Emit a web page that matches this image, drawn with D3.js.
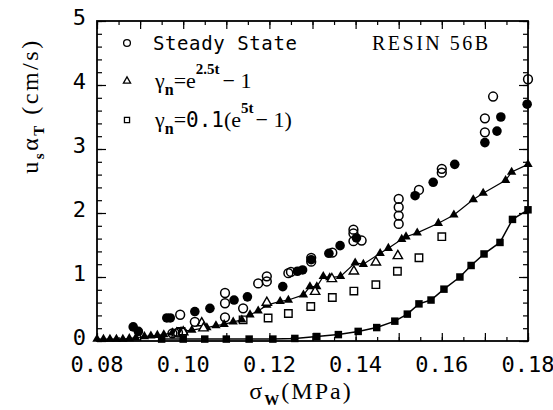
<!DOCTYPE html>
<html>
<head>
<meta charset="utf-8">
<script src="https://cdn.jsdelivr.net/npm/d3@7"></script>
<style>
  body { margin: 0; background: #fff; }
  svg { display: block; }
</style>
</head>
<body>
<div id="chart"></div>
<script>
// steady state, open circles [sigma_w, u_s*alpha_T]
const steadyOpen = [
  [0.0975, 0.12], [0.0988, 0.13], [0.0999, 0.13], [0.0993, 0.41], [0.1027, 0.30],
  [0.1097, 0.75], [0.1097, 0.59], [0.1097, 0.37], [0.1139, 0.51],
  [0.1174, 0.90], [0.1194, 1.01], [0.1194, 0.93], [0.1244, 1.06], [0.1250, 1.08],
  [0.1297, 1.30], [0.1297, 1.24], [0.1346, 1.38],
  [0.1395, 1.74], [0.1395, 1.68], [0.1395, 1.56], [0.1414, 1.57],
  [0.15, 2.22], [0.15, 2.09], [0.15, 1.96], [0.15, 1.83], [0.1547, 2.36],
  [0.16, 2.69], [0.16, 2.63], [0.170, 3.26], [0.170, 3.48], [0.1719, 3.82], [0.18, 4.09]
];
// filled circles
const steadyFilled = [
  [0.0884, 0.22], [0.0896, 0.15], [0.0962, 0.36], [0.0970, 0.36],
  [0.1027, 0.46], [0.1062, 0.51], [0.1118, 0.64], [0.1149, 0.69],
  [0.1231, 0.85], [0.1265, 1.09], [0.1277, 1.11], [0.1297, 1.27],
  [0.1338, 1.37], [0.1364, 1.49], [0.1402, 1.61],
  [0.1538, 2.27], [0.158, 2.48], [0.163, 2.76],
  [0.170, 3.10], [0.1728, 3.28], [0.1737, 3.50], [0.1798, 3.70]
];
// gamma_n = e^2.5t - 1 : open triangles (data), filled triangles + line
const triOpen = [
  [0.0985, 0.12], [0.1000, 0.14], [0.1043, 0.28], [0.1047, 0.20],
  [0.1194, 0.60], [0.1306, 0.77], [0.1345, 0.97], [0.1396, 1.09],
  [0.1447, 1.23], [0.1498, 1.33]
];
const triLine = [
  [0.0800, 0.03], [0.0815, 0.03], [0.0830, 0.03], [0.0845, 0.03], [0.0860, 0.03],
  [0.0875, 0.04], [0.0890, 0.05], [0.0910, 0.07], [0.0925, 0.08], [0.0940, 0.09],
  [0.0955, 0.10], [0.0975, 0.13], [0.0995, 0.15], [0.1020, 0.17], [0.1055, 0.21],
  [0.1076, 0.24], [0.1095, 0.26], [0.1116, 0.30], [0.1136, 0.33], [0.1155, 0.41],
  [0.1174, 0.47], [0.1194, 0.56], [0.1225, 0.62], [0.1244, 0.64], [0.1279, 0.72],
  [0.1294, 0.85], [0.1310, 0.85], [0.1325, 1.01], [0.1340, 0.99], [0.1365, 1.01],
  [0.1399, 1.22], [0.1418, 1.20], [0.1457, 1.37], [0.1476, 1.45], [0.1507, 1.59],
  [0.1517, 1.63], [0.1543, 1.69], [0.1592, 1.84], [0.1628, 1.97], [0.1673, 2.21],
  [0.1696, 2.31], [0.1748, 2.51], [0.1762, 2.64], [0.1800, 2.76]
];
// gamma_n = 0.1(e^5t - 1) : open squares (data), filled squares + line
const sqOpen = [
  [0.0995, 0.15], [0.1139, 0.33], [0.1197, 0.36], [0.1244, 0.43], [0.1296, 0.54],
  [0.1346, 0.68], [0.1396, 0.78], [0.1447, 0.88], [0.1497, 1.09], [0.1547, 1.30],
  [0.1600, 1.63]
];
const sqLine = [
  [0.0950, 0.03], [0.1000, 0.03], [0.1050, 0.03], [0.1100, 0.03], [0.1153, 0.03],
  [0.1208, 0.03], [0.1259, 0.04], [0.1310, 0.07], [0.1360, 0.10], [0.1406, 0.15],
  [0.1449, 0.21], [0.1491, 0.31], [0.1520, 0.42], [0.1547, 0.58], [0.1575, 0.64],
  [0.1605, 0.81], [0.1642, 1.00], [0.1668, 1.18], [0.1698, 1.36], [0.1735, 1.54],
  [0.1764, 1.90], [0.1800, 2.05]
];
const xTickLabels = [0.08, 0.10, 0.12, 0.14, 0.16, 0.18];
const yTickLabels = [0, 1, 2, 3, 4, 5];

const width = 553;
const height = 410;
const margin = { top: 21, right: 25, bottom: 69, left: 97 };
const iw = width - margin.left - margin.right;
const ih = height - margin.top - margin.bottom;

const svg = d3.select("#chart")
  .append("svg")
  .attr("width", width)
  .attr("height", height);

const g = svg.append("g")
  .attr("transform", `translate(${margin.left},${margin.top})`);

const x = d3.scaleLinear().domain([0.08, 0.18]).range([0, iw]);
const y = d3.scaleLinear().domain([0, 5]).range([ih, 0]);

const monoFont = "'DejaVu Sans Mono', monospace";
const serif = "'Liberation Serif', 'Times New Roman', serif";

// ticks, inside on all four sides
const xMinor = d3.range(0.08, 0.1801, 0.005);
const xMajor = d3.range(0.08, 0.1801, 0.01);
const yMinor = d3.range(0, 5.001, 0.2);

function tickAxis(axisFn, scale, values, size) {
  return axisFn(scale).tickValues(values).tickSize(size).tickFormat("");
}
g.append("g").attr("transform", `translate(0,${ih})`)
  .call(tickAxis(d3.axisTop, x, xMinor, 4));
g.append("g").attr("transform", `translate(0,${ih})`)
  .call(tickAxis(d3.axisTop, x, xMajor, 8));
g.append("g").call(tickAxis(d3.axisBottom, x, xMinor, 4));
g.append("g").call(tickAxis(d3.axisBottom, x, xMajor, 8));
g.append("g").call(tickAxis(d3.axisRight, y, yMinor, 5));
g.append("g").call(tickAxis(d3.axisRight, y, yTickLabels, 9));
g.append("g").attr("transform", `translate(${iw},0)`)
  .call(tickAxis(d3.axisLeft, y, yMinor, 5));
g.append("g").attr("transform", `translate(${iw},0)`)
  .call(tickAxis(d3.axisLeft, y, yTickLabels, 9));
g.selectAll(".domain").remove();
g.selectAll(".tick line").attr("stroke", "#000").attr("stroke-width", 1.2);

g.append("rect")
  .attr("width", iw).attr("height", ih)
  .attr("fill", "none").attr("stroke", "#000").attr("stroke-width", 1.8);

// tick labels
g.selectAll(".xlab").data(xTickLabels).join("text")
  .attr("x", d => x(d)).attr("y", ih + 31)
  .attr("text-anchor", "middle")
  .style("font-family", monoFont).style("font-size", "22px")
  .text(d => d3.format(".2f")(d));
g.selectAll(".ylab").data(yTickLabels).join("text")
  .attr("x", -11).attr("y", d => y(d) + 4)
  .attr("text-anchor", "end")
  .style("font-family", monoFont).style("font-size", "22px")
  .text(d => d);

// lines
const line = d3.line().x(d => x(d[0])).y(d => y(d[1]));
g.append("path").datum(triLine).attr("d", line)
  .attr("fill", "none").attr("stroke", "#000").attr("stroke-width", 1.2);
g.append("path").datum(sqLine).attr("d", line)
  .attr("fill", "none").attr("stroke", "#000").attr("stroke-width", 1.5);

const triSym = d3.symbol().type(d3.symbolTriangle).size(38);
const sqSym = d3.symbol().type(d3.symbolSquare).size(56);

g.selectAll(".sqf").data(sqLine).join("path")
  .attr("transform", d => `translate(${x(d[0])},${y(d[1])})`)
  .attr("d", sqSym).attr("fill", "#000");
g.selectAll(".sqo").data(sqOpen).join("path")
  .attr("transform", d => `translate(${x(d[0])},${y(d[1])})`)
  .attr("d", sqSym).attr("fill", "#fff").attr("stroke", "#000").attr("stroke-width", 1.4);
g.selectAll(".trif").data(triLine).join("path")
  .attr("transform", d => `translate(${x(d[0])},${y(d[1])})`)
  .attr("d", triSym).attr("fill", "#000");
g.selectAll(".trio").data(triOpen).join("path")
  .attr("transform", d => `translate(${x(d[0])},${y(d[1])})`)
  .attr("d", triSym).attr("fill", "#fff").attr("stroke", "#000").attr("stroke-width", 1.4);
g.selectAll(".cf").data(steadyFilled).join("circle")
  .attr("cx", d => x(d[0])).attr("cy", d => y(d[1])).attr("r", 4.8)
  .attr("fill", "#000");
g.selectAll(".co").data(steadyOpen).join("circle")
  .attr("cx", d => x(d[0])).attr("cy", d => y(d[1])).attr("r", 4.4)
  .attr("fill", "none").attr("stroke", "#000").attr("stroke-width", 1.5);

// legend
const leg = svg.append("g");
leg.append("circle").attr("cx", 127).attr("cy", 43).attr("r", 3.4)
  .attr("fill", "none").attr("stroke", "#000").attr("stroke-width", 1.3);
leg.append("text").attr("x", 153).attr("y", 50)
  .style("font-family", monoFont).style("font-size", "19px").style("letter-spacing", "0.6px")
  .text("Steady State");
leg.append("path").attr("transform", "translate(127,81)")
  .attr("d", d3.symbol().type(d3.symbolTriangle).size(22))
  .attr("fill", "none").attr("stroke", "#000").attr("stroke-width", 1.3);
const t2 = leg.append("text").attr("x", 155).attr("y", 88)
  .style("font-family", serif).style("font-size", "22px");
t2.append("tspan").text("γ");
t2.append("tspan").attr("dy", 7).style("font-size", "16px").style("font-weight", "bold").text("n");
t2.append("tspan").attr("dy", -7).text("=e");
t2.append("tspan").attr("dy", -14).style("font-size", "15px").style("font-weight", "bold").text("2.5t");
t2.append("tspan").attr("dy", 14).attr("dx", 3).text("− 1");
leg.append("path").attr("transform", "translate(127,120)")
  .attr("d", d3.symbol().type(d3.symbolSquare).size(26))
  .attr("fill", "none").attr("stroke", "#000").attr("stroke-width", 1.3);
const t3 = leg.append("text").attr("x", 155).attr("y", 127)
  .style("font-family", serif).style("font-size", "22px");
t3.append("tspan").text("γ");
t3.append("tspan").attr("dy", 7).style("font-size", "16px").style("font-weight", "bold").text("n");
t3.append("tspan").attr("dy", -7).text("=");
t3.append("tspan").style("font-family", monoFont).style("font-size", "21px").text("0.1");
t3.append("tspan").text("(e");
t3.append("tspan").attr("dy", -14).style("font-size", "15px").style("font-weight", "bold").text("5t");
t3.append("tspan").attr("dy", 14).attr("dx", 2).text("− 1)");

svg.append("text").attr("x", 372).attr("y", 50)
  .style("font-family", serif).style("font-size", "20px").style("letter-spacing", "2.5px")
  .text("RESIN 56B");

// axis titles
const xt = svg.append("text").attr("x", 301).attr("y", 399)
  .attr("text-anchor", "middle")
  .style("font-family", serif).style("font-size", "24px").style("letter-spacing", "2px");
xt.append("tspan").text("σ");
xt.append("tspan").attr("dy", 6).style("font-size", "15px").style("font-weight", "bold").text("W");
xt.append("tspan").attr("dy", -6).text("(MPa)");

const yt = svg.append("text")
  .attr("transform", "translate(38,106) rotate(-90)")
  .attr("text-anchor", "middle")
  .style("font-family", serif).style("font-size", "24px").style("letter-spacing", "2.5px");
yt.append("tspan").text("u");
yt.append("tspan").attr("dy", 6).style("font-size", "15px").style("font-weight", "bold").text("s");
yt.append("tspan").attr("dy", -6).text("α");
yt.append("tspan").attr("dy", 6).style("font-size", "15px").style("font-weight", "bold").text("T");
yt.append("tspan").attr("dy", -6).text(" (cm/s)");
</script>
</body>
</html>
